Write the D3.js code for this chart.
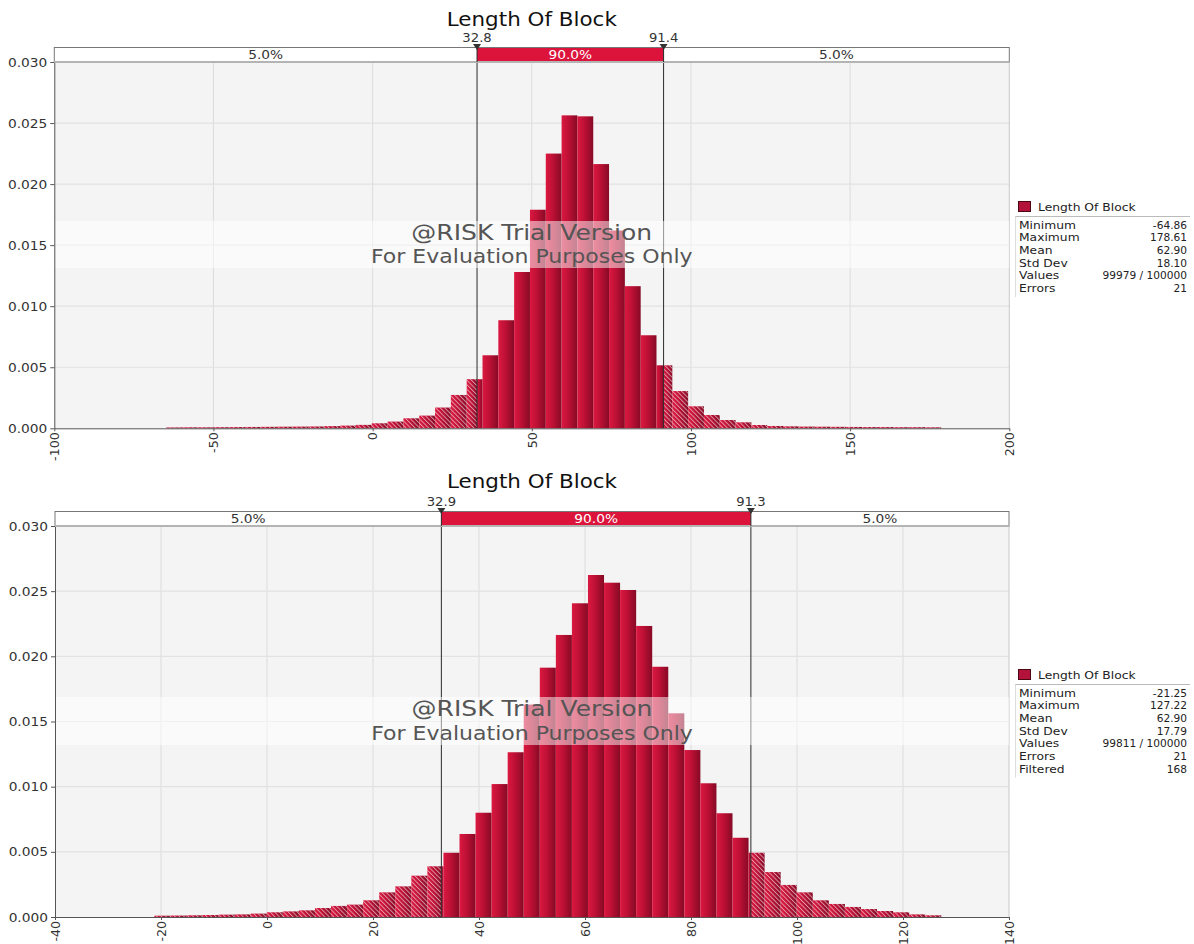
<!DOCTYPE html>
<html><head><meta charset="utf-8">
<script src="https://cdn.jsdelivr.net/npm/d3@7"></script>
<style>
body{margin:0;background:#fff}
svg{display:block}
text{font-family:"DejaVu Sans",Verdana,sans-serif}
</style>
</head><body>
<svg id="c" width="1194" height="944"></svg>
<script>
// ---------------- DATA ----------------
const chartTitle = "Length Of Block";
const yTicks = [0, 0.005, 0.010, 0.015, 0.020, 0.025, 0.030];
const pctLabels = ["5.0%", "90.0%", "5.0%"];
const statNames = ["Minimum", "Maximum", "Mean", "Std Dev", "Values", "Errors", "Filtered"];
const watermark = ["@RISK Trial Version", "For Evaluation Purposes Only"];

// top histogram (49 bins from min to max)
const topMin = -64.86, topMax = 178.61;
const topP5 = 32.8, topP95 = 91.4;
const topDomain = [-100, 200];
const topXTicks = [-100, -50, 0, 50, 100, 150, 200];
const topDensity = [
  0.00007, 0.00008, 0.00008, 0.00009, 0.00010, 0.00011, 0.00012, 0.00013, 0.00014, 0.00015,
  0.00018, 0.00022, 0.00028, 0.00041, 0.00055, 0.00082, 0.00104, 0.00170, 0.00273, 0.00402,
  0.00598, 0.00885, 0.01280, 0.01790, 0.02250, 0.02563, 0.02555, 0.02164, 0.01620, 0.01164,
  0.00762, 0.00516, 0.00305, 0.00180, 0.00109, 0.00068, 0.00049, 0.00027, 0.00019, 0.00016,
  0.00014, 0.00013, 0.00012, 0.00011, 0.00010, 0.00010, 0.00009, 0.00009, 0.00008
];
const topStats = ["-64.86", "178.61", "62.90", "18.10", "99979 / 100000", "21"];

// bottom histogram (49 bins from min to max)
const botMin = -21.25, botMax = 127.22;
const botP5 = 32.9, botP95 = 91.3;
const botDomain = [-40, 140];
const botXTicks = [-40, -20, 0, 20, 40, 60, 80, 100, 120, 140];
const botDensity = [
  0.00010, 0.00011, 0.00013, 0.00015, 0.00018, 0.00020, 0.00026, 0.00036, 0.00043, 0.00051,
  0.00069, 0.00085, 0.00095, 0.00128, 0.00189, 0.00235, 0.00317, 0.00389, 0.00493, 0.00637,
  0.00800, 0.01020, 0.01264, 0.01630, 0.01913, 0.02164, 0.02407, 0.02624, 0.02565, 0.02509,
  0.02233, 0.01920, 0.01563, 0.01281, 0.01026, 0.00796, 0.00608, 0.00493, 0.00345, 0.00246,
  0.00189, 0.00128, 0.00100, 0.00077, 0.00061, 0.00046, 0.00036, 0.00020, 0.00013
];
const botStats = ["-21.25", "127.22", "62.90", "17.79", "99811 / 100000", "21", "168"];

// ---------------- LAYOUT ----------------
const panels = [
  { min: topMin, max: topMax, p5: topP5, p95: topP95, domain: topDomain, xTicks: topXTicks,
    density: topDensity, stats: topStats,
    x0: 54.3, x1: 1009.3, yTop: 62, yBot: 428.3, barTop: 47, titleY: 26,
    wmTop: 221, wmBot: 268, wm1: 240, wm2: 263, legendY: 201 },
  { min: botMin, max: botMax, p5: botP5, p95: botP95, domain: botDomain, xTicks: botXTicks,
    density: botDensity, stats: botStats,
    x0: 55, x1: 1009, yTop: 526, yBot: 917, barTop: 511, titleY: 488,
    wmTop: 697, wmBot: 745, wm1: 716, wm2: 740, legendY: 669 }
];

const svg = d3.select("#c");
const defs = svg.append("defs");
const grad = defs.append("linearGradient").attr("id", "barGrad")
  .attr("x1", 0).attr("x2", 1).attr("y1", 0).attr("y2", 0);
grad.append("stop").attr("offset", 0).attr("stop-color", "#db1840");
grad.append("stop").attr("offset", 0.45).attr("stop-color", "#bd1035");
grad.append("stop").attr("offset", 1).attr("stop-color", "#860a25");
const pat = defs.append("pattern").attr("id", "hatch").attr("patternUnits", "userSpaceOnUse")
  .attr("width", 3.2).attr("height", 6).attr("patternTransform", "rotate(-45)");
pat.append("line").attr("x1", 0.5).attr("y1", 0).attr("x2", 0.5).attr("y2", 6)
  .attr("stroke", "#fff").attr("stroke-width", 0.9).attr("stroke-opacity", 0.6);

function stretch(sel, k) {
  sel.each(function (d, i) {
    const f = typeof k === "function" ? k(d, i) : (k || 1.1);
    const l = this.getComputedTextLength();
    if (l > 0) {
      this.setAttribute("textLength", l * f);
      this.setAttribute("lengthAdjust", "spacingAndGlyphs");
    }
  });
  return sel;
}

function drawPanel(p) {
  const g = svg.append("g");
  const x = d3.scaleLinear().domain(p.domain).range([p.x0, p.x1]);
  const y = d3.scaleLinear().domain([0, 0.03]).range([p.yBot, p.yTop]);

  // plot background
  g.append("rect").attr("x", p.x0).attr("y", p.yTop)
    .attr("width", p.x1 - p.x0).attr("height", p.yBot - p.yTop).attr("fill", "#f4f4f4");

  // grid
  g.selectAll(".vg").data(p.xTicks.slice(1, -1)).join("line")
    .attr("x1", d => x(d)).attr("x2", d => x(d)).attr("y1", p.yTop).attr("y2", p.yBot)
    .attr("stroke", "#dcdcdc").attr("stroke-width", 1);
  g.selectAll(".hg").data(yTicks.slice(1, -1)).join("line")
    .attr("x1", p.x0).attr("x2", p.x1).attr("y1", d => y(d)).attr("y2", d => y(d))
    .attr("stroke", "#e2e2e2").attr("stroke-width", 1.2);
  g.append("line").attr("x1", p.x1).attr("x2", p.x1).attr("y1", p.yTop).attr("y2", p.yBot)
    .attr("stroke", "#c8c8c8");

  // bars, split at the percentile markers
  const n = p.density.length;
  const bw = (p.max - p.min) / n;
  const segs = [];
  p.density.forEach((h, i) => {
    const a = p.min + i * bw, b = a + bw;
    if (a < p.p5) segs.push({ a: a, b: Math.min(b, p.p5), h: h, hatch: true });
    if (b > p.p5 && a < p.p95) segs.push({ a: Math.max(a, p.p5), b: Math.min(b, p.p95), h: h, hatch: false });
    if (b > p.p95) segs.push({ a: Math.max(a, p.p95), b: b, h: h, hatch: true });
  });
  g.selectAll(".bar").data(segs).join("rect")
    .attr("x", d => x(d.a)).attr("width", d => Math.max(0, x(d.b) - x(d.a)))
    .attr("y", d => y(d.h)).attr("height", d => p.yBot - y(d.h))
    .attr("fill", "url(#barGrad)");
  g.selectAll(".hatchbar").data(segs.filter(d => d.hatch)).join("rect")
    .attr("x", d => x(d.a)).attr("width", d => Math.max(0, x(d.b) - x(d.a)))
    .attr("y", d => y(d.h)).attr("height", d => p.yBot - y(d.h))
    .attr("fill", "url(#hatch)");

  // percentile lines
  g.selectAll(".pl").data([p.p5, p.p95]).join("line")
    .attr("x1", d => x(d)).attr("x2", d => x(d)).attr("y1", p.barTop).attr("y2", p.yBot)
    .attr("stroke", "#2a2a2a").attr("stroke-width", 1);

  // watermark band
  g.append("rect").attr("x", p.x0).attr("y", p.wmTop)
    .attr("width", p.x1 - p.x0).attr("height", p.wmBot - p.wmTop)
    .attr("fill", "#fff").attr("fill-opacity", 0.5);
  stretch(g.selectAll(".wm").data(watermark).join("text")
    .attr("x", (p.x0 + p.x1) / 2).attr("y", (d, i) => i === 0 ? p.wm1 : p.wm2)
    .attr("text-anchor", "middle").attr("font-size", (d, i) => i === 0 ? 21 : 20).attr("fill", "#555")
    .text(d => d), (d, i) => i === 0 ? 1.19 : 1.1);

  // axes
  const ya = g.append("g").attr("transform", `translate(${p.x0},0)`)
    .call(d3.axisLeft(y).tickValues(yTicks).tickFormat(d3.format(".3f")).tickSize(4).tickSizeOuter(0).tickPadding(3));
  ya.select(".domain").attr("stroke", "#555");
  ya.selectAll(".tick line").attr("stroke", "#555");
  ya.selectAll("text").attr("font-size", 12.5).attr("fill", "#333")
    .attr("font-family", '"DejaVu Sans",Verdana,sans-serif');
  stretch(ya.selectAll("text"));

  const xa = g.append("g").attr("transform", `translate(0,${p.yBot})`)
    .call(d3.axisBottom(x).tickValues(p.xTicks).tickFormat(d => String(d)).tickSize(3).tickSizeOuter(0));
  xa.select(".domain").attr("stroke", "#555");
  xa.selectAll(".tick line").attr("stroke", "#555");
  xa.selectAll("text").attr("font-size", 12).attr("fill", "#333")
    .attr("font-family", '"DejaVu Sans",Verdana,sans-serif')
    .attr("transform", "rotate(-90)").attr("text-anchor", "end")
    .attr("x", -4).attr("y", 0).attr("dy", "0.35em");
  stretch(xa.selectAll("text"), 1.05);

  // percentile bar
  const regions = [[p.domain[0], p.p5], [p.p5, p.p95], [p.p95, p.domain[1]]];
  g.selectAll(".reg").data(regions).join("rect")
    .attr("x", d => x(d[0])).attr("width", d => x(d[1]) - x(d[0]))
    .attr("y", p.barTop).attr("height", p.yTop - p.barTop)
    .attr("fill", (d, i) => i === 1 ? "#dc143c" : "#fff");
  g.append("rect").attr("x", p.x0).attr("y", p.barTop + 0.5)
    .attr("width", p.x1 - p.x0).attr("height", p.yTop - p.barTop - 0.5)
    .attr("fill", "none").attr("stroke", "#777").attr("stroke-width", 1);
  g.append("line").attr("x1", p.x0).attr("x2", p.x1).attr("y1", p.yTop).attr("y2", p.yTop)
    .attr("stroke", "#b4b4b4").attr("stroke-width", 2);
  g.selectAll(".pl2").data([p.p5, p.p95]).join("line")
    .attr("x1", d => x(d)).attr("x2", d => x(d)).attr("y1", p.barTop).attr("y2", p.yTop)
    .attr("stroke", "#2a2a2a").attr("stroke-width", 1);
  stretch(g.selectAll(".regt").data(regions).join("text")
    .attr("x", d => (x(d[0]) + x(d[1])) / 2).attr("y", p.yTop - 3)
    .attr("text-anchor", "middle").attr("font-size", 12.5)
    .attr("fill", (d, i) => i === 1 ? "#fff" : "#333")
    .text((d, i) => pctLabels[i]));

  // markers
  g.selectAll(".mk").data([p.p5, p.p95]).join("path")
    .attr("d", d => `M${x(d) - 4},${p.barTop - 3}L${x(d) + 4},${p.barTop - 3}L${x(d)},${p.barTop + 3}Z`)
    .attr("fill", "#333");
  stretch(g.selectAll(".mkt").data([p.p5, p.p95]).join("text")
    .attr("x", d => x(d)).attr("y", p.barTop - 5)
    .attr("text-anchor", "middle").attr("font-size", 12).attr("fill", "#333")
    .text(d => d3.format(".1f")(d)));

  // title
  stretch(g.append("text").attr("x", (p.x0 + p.x1) / 2).attr("y", p.titleY)
    .attr("text-anchor", "middle").attr("font-size", 19.5).attr("fill", "#111")
    .text(chartTitle));

  // legend
  const ly = p.legendY;
  g.append("rect").attr("x", 1018.5).attr("y", ly + 0.5).attr("width", 12).attr("height", 10)
    .attr("fill", "#b3123a").attr("stroke", "#4a0612");
  stretch(g.append("text").attr("x", 1038).attr("y", ly + 9.5).attr("font-size", 11.2)
    .attr("fill", "#222").text(chartTitle));
  const rowY = i => ly + 27.5 + i * 12.7;
  g.append("line").attr("x1", 1015).attr("x2", 1190).attr("y1", ly + 15.5).attr("y2", ly + 15.5)
    .attr("stroke", "#bbb");
  g.append("line").attr("x1", 1015.5).attr("x2", 1015.5).attr("y1", ly + 15.5)
    .attr("y2", rowY(p.stats.length - 1) + 5).attr("stroke", "#ddd");
  stretch(g.selectAll(".sn").data(p.stats).join("text")
    .attr("x", 1019).attr("y", (d, i) => rowY(i)).attr("font-size", 11.2).attr("fill", "#222")
    .text((d, i) => statNames[i]));
  g.selectAll(".sv").data(p.stats).join("text")
    .attr("x", 1187).attr("y", (d, i) => rowY(i)).attr("font-size", 10.6).attr("fill", "#222")
    .attr("text-anchor", "end").text(d => d);
}

panels.forEach(drawPanel);
</script>
</body></html>
